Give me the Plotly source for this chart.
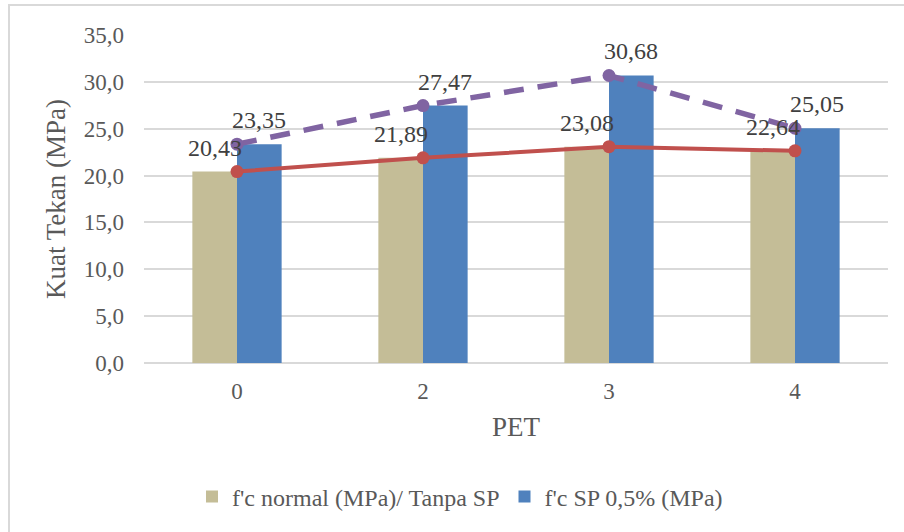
import plotly.graph_objects as go

# Kuat tekan beton terhadap kadar PET
pet = ["0", "2", "3", "4"]
fc_normal = [20.43, 21.89, 23.08, 22.64]
fc_sp = [23.35, 27.47, 30.68, 25.05]

name_normal = "f'c normal (MPa)/ Tanpa SP"
name_sp = "f'c SP 0,5% (MPa)"

serif = "Liberation Serif"
label_font = dict(family=serif, size=24, color="#404040")

plot_w = 744
bargap = 0.52
# horizontal offset of each bar centre from its category centre, in px
bar_half = plot_w / len(pet) * (1 - bargap) / 4

fig = go.Figure()

fig.add_trace(go.Bar(
    x=pet, y=fc_normal, name=name_normal,
    marker=dict(color="#C4BD97", line=dict(width=0)),
))
fig.add_trace(go.Bar(
    x=pet, y=fc_sp, name=name_sp,
    marker=dict(color="#4F81BD", line=dict(width=0)),
))

# Garis tren di tengah tiap kelompok
fig.add_trace(go.Scatter(
    x=pet, y=fc_normal, mode="lines+markers", showlegend=False,
    line=dict(color="#C0504D", width=4),
    marker=dict(color="#C0504D", size=13),
    cliponaxis=False,
))
fig.add_trace(go.Scatter(
    x=pet, y=fc_sp, mode="lines+markers", showlegend=False,
    line=dict(color="#8064A2", width=5.5, dash="20px,14px"),
    marker=dict(color="#8064A2", size=13),
    cliponaxis=False,
))

# Label nilai di atas tiap batang (x = indeks kategori)
annotations = []
for series, side in ((fc_normal, -1), (fc_sp, 1)):
    for idx, val in enumerate(series):
        annotations.append(dict(
            x=idx, y=val, xref="x", yref="y",
            text=f"{val:.2f}".replace(".", ","),
            showarrow=False, xanchor="center", yanchor="bottom",
            xshift=side * bar_half, yshift=9,
            font=label_font,
        ))

fig.update_layout(
    width=904, height=532,
    margin=dict(l=144, r=16, t=35, b=169),
    paper_bgcolor="white", plot_bgcolor="white",
    separators=",.",
    barmode="group", bargap=bargap, bargroupgap=0,
    font=dict(family=serif, size=23, color="#595959"),
    xaxis=dict(
        type="category", range=[-0.5, 3.5],
        showgrid=False, showline=False, zeroline=False,
        ticks="", tickfont=dict(family=serif, size=23, color="#595959"),
        ticklabelstandoff=12,
        title=dict(text="PET", font=dict(family=serif, size=27, color="#595959"), standoff=14),
    ),
    yaxis=dict(
        range=[0, 35], dtick=5, tickformat=".1f",
        showgrid=True, gridcolor="#D9D9D9", gridwidth=1.5,
        zeroline=True, zerolinecolor="#D9D9D9", zerolinewidth=1.5,
        showline=False, ticks="",
        tickfont=dict(family=serif, size=23, color="#595959"),
        ticklabelstandoff=19,
        title=dict(text="Kuat Tekan (MPa)", font=dict(family=serif, size=27, color="#595959"), standoff=10),
    ),
    legend=dict(
        orientation="h", x=(192 - 144) / 744, xanchor="left", y=(363 - 497) / 328, yanchor="middle",
        font=dict(family=serif, size=24, color="#595959"),
        itemwidth=30, traceorder="normal",
    ),
    annotations=annotations,
    shapes=[dict(
        type="rect", xref="paper", yref="paper",
        x0=(9 - 144) / 744, x1=(910 - 144) / 744,
        y0=(363 - 540) / 328, y1=(363 - 5) / 328,
        line=dict(color="#D9D9D9", width=2), fillcolor="rgba(0,0,0,0)",
        layer="below",
    )],
)

fig.write_html("out.html")
